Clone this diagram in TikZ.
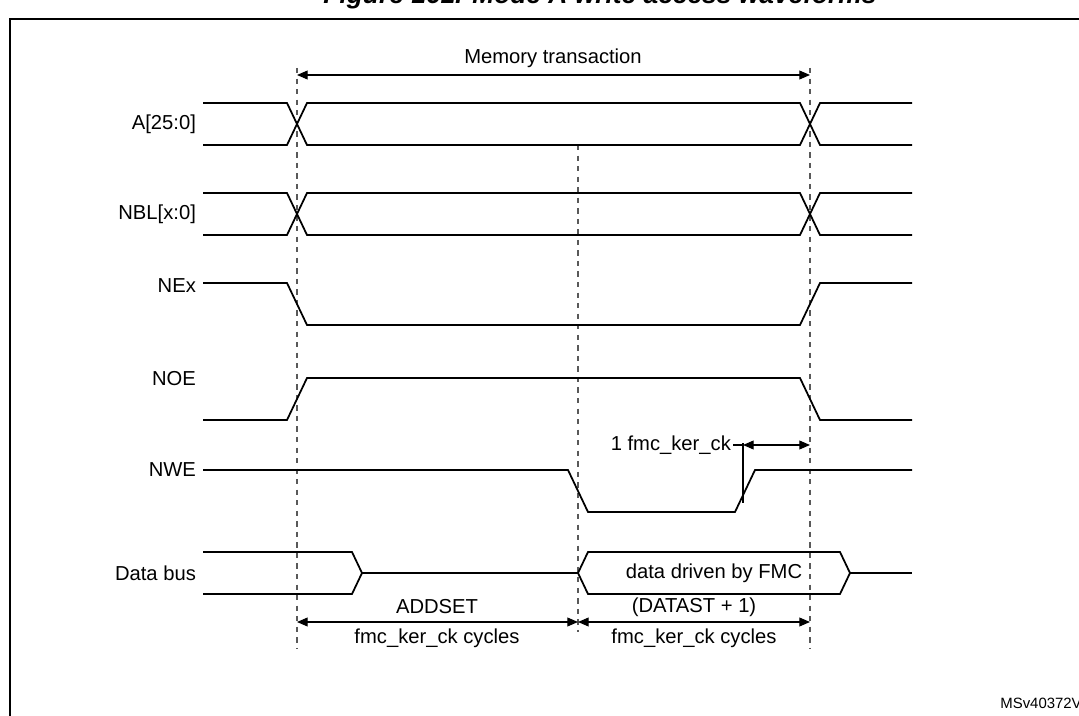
\documentclass[tikz,border=0pt]{standalone}
\usepackage{fontspec}
\setmainfont{Liberation Sans}
\usetikzlibrary{arrows.meta}

\begin{document}
\begin{tikzpicture}[x=0.02cm, y=-0.02cm, >={Triangle[length=6pt,width=5pt]},
    sig/.style={black, line width=1pt},
    guide/.style={gray!70!black, dashed, line width=0.6pt},
    dim/.style={<->, line width=0.6pt},
    lbl/.style={font=\fontsize{11.5}{13}\selectfont, inner sep=1pt}]
    \useasboundingbox (0, 0) rectangle (1079, 716);
    \node[font=\fontsize{15}{17}\selectfont\bfseries\itshape] (title) at (600, -3) {Figure 161. Mode A write access waveforms};
    \draw[line width=1.2pt] (10, 760) -- (10, 19) -- (1100, 19);
    % guides
    \draw[guide] (297, 68) -- (297, 648);
    \draw[guide] (578, 145) -- (578, 632);
    \draw[guide] (810, 68) -- (810, 648);
    % memory transaction
    \coordinate (mtl) at (297, 75);
    \coordinate (mtr) at (810, 75);
    \draw[dim] (mtl) -- (mtr);
    \node[lbl] (mt) at (553, 58) {Memory transaction};
    % bus signals
    \foreach \y/\name/\txt in {124/addr/{A[25:0]}, 214/nbl/{NBL[x:0]}} {
        \node[lbl, anchor=east] (\name) at (198, \y) {\txt};
        \draw[sig] (203, \y-21) -- (287, \y-21) -- (307, \y+21) -- (800, \y+21) -- (820, \y-21) -- (912, \y-21);
        \draw[sig] (203, \y+21) -- (287, \y+21) -- (307, \y-21) -- (800, \y-21) -- (820, \y+21) -- (912, \y+21);
    }
    % NEx
    \node[lbl, anchor=east] (nex) at (198, 286) {NEx};
    \draw[sig] (203, 283) -- (287, 283) -- (307, 325) -- (800, 325) -- (820, 283) -- (912, 283);
    % NOE
    \node[lbl, anchor=east] (noe) at (198, 379) {NOE};
    \draw[sig] (203, 420) -- (287, 420) -- (307, 378) -- (800, 378) -- (820, 420) -- (912, 420);
    % NWE
    \node[lbl, anchor=east] (nwe) at (198, 470) {NWE};
    \draw[sig] (203, 470) -- (568, 470) -- (588, 512) -- (735, 512) -- (755, 470) -- (912, 470);
    \draw[line width=0.6pt] (743, 443) -- (743, 503);
    \coordinate (ckl) at (743, 445);
    \coordinate (ckr) at (810, 445);
    \draw[dim] (ckl) -- (ckr);
    \draw[line width=0.6pt] (733, 445) -- (ckl);
    \node[lbl, anchor=east] (ck) at (733, 445) {1 fmc\_ker\_ck};
    % data bus
    \node[lbl, anchor=east] (data) at (198, 573) {Data bus};
    \draw[sig] (203, 552) -- (352, 552) -- (362, 573) -- (352, 594) -- (203, 594);
    \draw[sig] (362, 573) -- (578, 573);
    \draw[sig] (578, 573) -- (588, 552) -- (840, 552) -- (850, 573) -- (840, 594) -- (588, 594) -- cycle;
    \draw[sig] (850, 573) -- (912, 573);
    \node[lbl] (drv) at (714, 573) {data driven by FMC};
    % cycle counts
    \coordinate (cl) at (297, 622);
    \coordinate (cm) at (578, 622);
    \coordinate (cr) at (810, 622);
    \draw[dim] (cl) -- (cm);
    \draw[dim] (cm) -- (cr);
    \node[lbl] (addset) at (437, 607) {ADDSET};
    \node[lbl] (addcyc) at (437, 638) {fmc\_ker\_ck cycles};
    \node[lbl] (datast) at (694, 607) {(DATAST + 1)};
    \node[lbl] (datcyc) at (694, 638) {fmc\_ker\_ck cycles};
    \node[font=\fontsize{8.5}{10}\selectfont, anchor=west, inner sep=0pt] (ref) at (1000, 703) {MSv40372V3};
\end{tikzpicture}
\end{document}
